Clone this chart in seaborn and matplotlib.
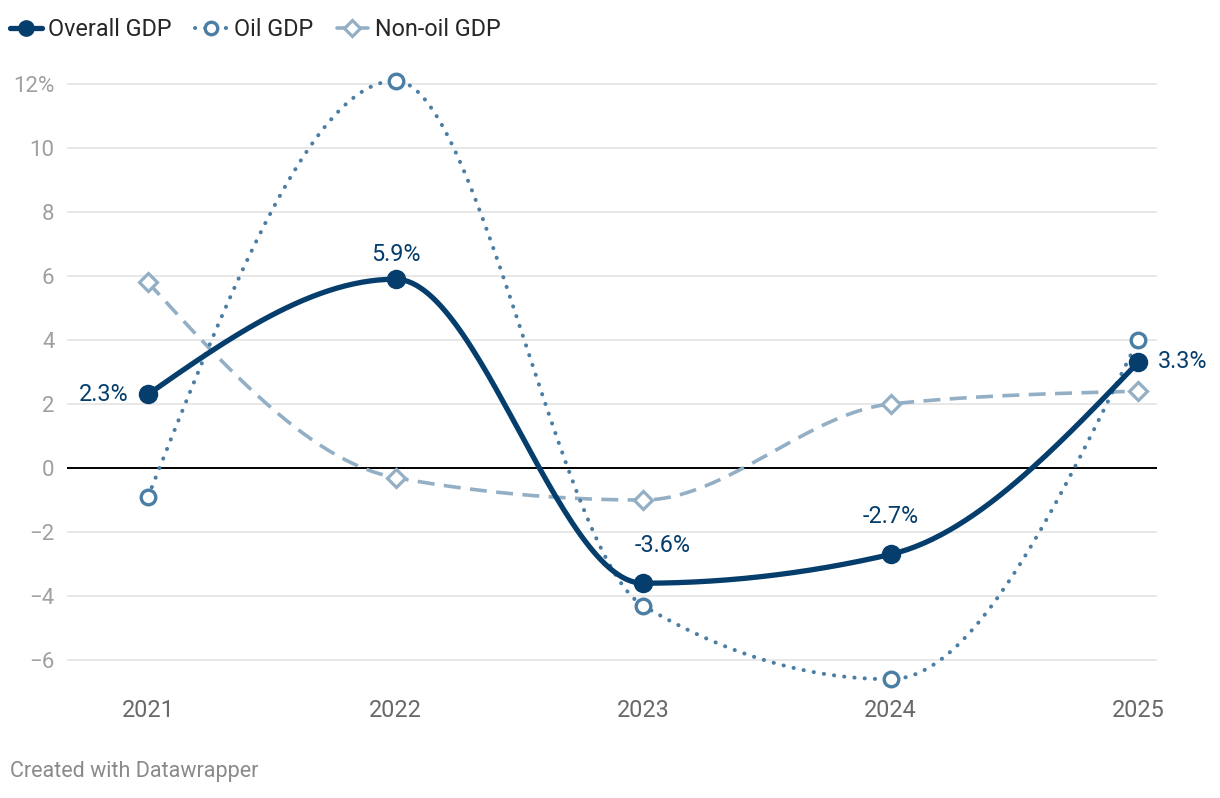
import numpy as np
import pandas as pd
import matplotlib
matplotlib.use("Agg")
import matplotlib.pyplot as plt
from matplotlib.lines import Line2D
import seaborn as sns

# chart data
years = [2021, 2022, 2023, 2024, 2025]
overall_gdp = [2.3, 5.9, -3.6, -2.7, 3.3]
oil_gdp = [-0.9, 12.1, -4.3, -6.6, 4.0]
nonoil_gdp = [5.8, -0.3, -1.0, 2.0, 2.4]
y_ticks = [-6, -4, -2, 0, 2, 4, 6, 8, 10, 12]

c_overall = "#053d6c"
c_oil = "#4b7ea4"
c_nonoil = "#93afc5"

DOTS = (0, (0.05, 2.5))
DASHES = (0, (4.7, 2.6))


def monotone_curve(x, y, n=60):
    # d3 curveMonotoneX style rendering of the line between the data points
    x = np.asarray(x, float)
    y = np.asarray(y, float)
    h = np.diff(x)
    s = np.diff(y) / h
    t = np.zeros(len(x))
    for i in range(1, len(x) - 1):
        p = (s[i - 1] * h[i] + s[i] * h[i - 1]) / (h[i - 1] + h[i])
        t[i] = (np.sign(s[i - 1]) + np.sign(s[i])) * min(abs(s[i - 1]), abs(s[i]), 0.5 * abs(p))
    t[0] = (3 * s[0] - t[1]) / 2
    t[-1] = (3 * s[-1] - t[-2]) / 2
    xs, ys = [], []
    for i in range(len(x) - 1):
        u = np.linspace(0, 1, n)
        h00 = 2 * u**3 - 3 * u**2 + 1
        h10 = u**3 - 2 * u**2 + u
        h01 = -2 * u**3 + 3 * u**2
        h11 = u**3 - u**2
        xs.append(x[i] + u * h[i])
        ys.append(h00 * y[i] + h10 * h[i] * t[i] + h01 * y[i + 1] + h11 * h[i] * t[i + 1])
    return np.concatenate(xs), np.concatenate(ys)


sns.set_style("white")
plt.rcParams["font.family"] = ["Roboto", "DejaVu Sans"]
plt.rcParams["axes.unicode_minus"] = True

fig = plt.figure(figsize=(12.2, 7.98), dpi=100)
ax = fig.add_axes([67 / 1220, 1 - 692 / 798, 1090 / 1220, 624 / 798])

# gridlines + zero line
for v in y_ticks:
    if v == 0:
        ax.axhline(0, color="black", lw=1.4, zorder=1)
    else:
        ax.axhline(v, color="#e1e1e1", lw=1.1, zorder=0)

# non-oil (dashed)
cx, cy = monotone_curve(years, nonoil_gdp)
sns.lineplot(x=cx, y=cy, ax=ax, color=c_nonoil, lw=2.6, zorder=2, sort=False)
ax.lines[-1].set_linestyle(DASHES)
ax.plot(years, nonoil_gdp, ls="none", marker="D", ms=9, mfc="white", mec=c_nonoil,
        mew=2.3, zorder=3)

# oil (dotted)
cx, cy = monotone_curve(years, oil_gdp)
sns.lineplot(x=cx, y=cy, ax=ax, color=c_oil, lw=2.9, zorder=4, sort=False)
ax.lines[-1].set_linestyle(DOTS)
ax.lines[-1].set_dash_capstyle("round")
ax.plot(years, oil_gdp, ls="none", marker="o", ms=10.5, mfc="white", mec=c_oil,
        mew=2.4, zorder=5)

# overall (solid)
cx, cy = monotone_curve(years, overall_gdp)
sns.lineplot(x=cx, y=cy, ax=ax, color=c_overall, lw=3.8, zorder=6, sort=False)
ax.lines[-1].set_solid_capstyle("round")
ax.plot(years, overall_gdp, ls="none", marker="o", ms=13, color=c_overall, zorder=7)

# value labels
lab_kw = dict(color=c_overall, fontsize=16.8, zorder=8)
ax.annotate(f"{overall_gdp[0]}%", (years[0], overall_gdp[0]), xytext=(-14, 0),
            textcoords="offset points", ha="right", va="center", **lab_kw)
ax.annotate(f"{overall_gdp[1]}%", (years[1], overall_gdp[1]), xytext=(0, 18),
            textcoords="offset points", ha="center", va="center", **lab_kw)
ax.annotate(f"{overall_gdp[2]}%", (years[2], overall_gdp[2]), xytext=(14, 27),
            textcoords="offset points", ha="center", va="center", **lab_kw)
ax.annotate(f"{overall_gdp[3]}%", (years[3], overall_gdp[3]), xytext=(0, 27),
            textcoords="offset points", ha="center", va="center", **lab_kw)
ax.annotate(f"{overall_gdp[4]}%", (years[4], overall_gdp[4]), xytext=(14, 1),
            textcoords="offset points", ha="left", va="center", **lab_kw)

ax.set_xlim(2021 - 81 / 247.5, 2025 + 19 / 247.5)
ax.set_ylim(-7, 12.5)
ax.set_xticks(years)
ax.set_xticklabels([str(y) for y in years])
ax.set_yticks(y_ticks)
ax.set_yticklabels([f"{v}%" if v == 12 else f"{v}".replace("-", "\u2212") for v in y_ticks])
ax.tick_params(axis="x", length=0, pad=5, labelsize=16.8, labelcolor="#686868")
ax.tick_params(axis="y", length=0, pad=9, labelsize=16, labelcolor="#a0a0a0")
for sp in ax.spines.values():
    sp.set_visible(False)
ax.set_xlabel("")
ax.set_ylabel("")

# legend
handles = [
    Line2D([], [], color=c_overall, lw=3.8, marker="o", ms=11),
    Line2D([], [], color=c_oil, lw=2.9, ls=DOTS, dash_capstyle="round",
           marker="o", ms=9, mfc="white", mew=2.4),
    Line2D([], [], color=c_nonoil, lw=2.6, marker="D", ms=8.5, mfc="white", mew=2.3),
]
fig.legend(handles, ["Overall GDP", "Oil GDP", "Non-oil GDP"], loc="center left",
           bbox_to_anchor=(10 / 1220, 1 - 30 / 798), ncol=3, frameon=False, fontsize=16.8,
           handlelength=1.35, handletextpad=0.3, columnspacing=1.0, borderpad=0,
           borderaxespad=0)

fig.text(10 / 1220, 1 - 772 / 798, "Created with Datawrapper", fontsize=15.5,
         color="#8a8a8a", ha="left", va="center")

fig.savefig("out.png", dpi=100, facecolor="white")
